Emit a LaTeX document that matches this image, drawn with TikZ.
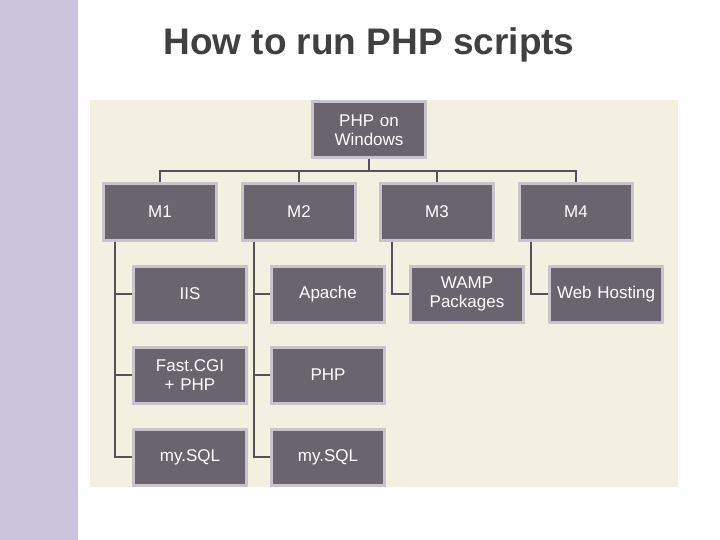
\documentclass[tikz,border=0pt]{standalone}
\usepackage{fontspec}
\setmainfont{Liberation Sans}
\usepackage{tikz}
\usetikzlibrary{positioning}
\definecolor{boxfill}{HTML}{69646E}
\definecolor{boxline}{HTML}{C9C3CC}
\definecolor{panel}{HTML}{F3EFE1}
\definecolor{strip}{HTML}{CBC3DA}
\definecolor{wire}{HTML}{555158}
\tikzset{box/.style={draw=boxline, line width=3pt, fill=boxfill, text=white, minimum width=113pt, minimum height=56pt, text width=105pt, align=center, font=\fontsize{17}{19}\selectfont}}

\begin{document}
\begin{tikzpicture}[x=1pt, y=-1pt]
    \useasboundingbox (0,0) rectangle (720,540);
    %Background
    \fill[strip] (0,0) rectangle (78,540);
    \fill[panel] (90,100) rectangle (678,487);
    \node[text=black!75, font=\bfseries\fontsize{37}{40}\selectfont](title) at (369,45){How to run PHP scripts};
    
    %Nodes
    \node[box](root) at (369,130){PHP on Windows};
    \node[box](m1) at (160,212){M1};
    \node[box](m2) at (299,212){M2};
    \node[box](m3) at (437,212){M3};
    \node[box](m4) at (576,212){M4};
    
    \node[box](iis) at (190,294){IIS};
    \node[box](fastcgi) at (190,375){Fast.CGI + PHP};
    \node[box](mysql_a) at (190,457){my.SQL};
    \node[box](apache) at (328,294){Apache};
    \node[box](php) at (328,375){PHP};
    \node[box](mysql_b) at (328,457){my.SQL};
    \node[box](wamp) at (467,294){WAMP Packages};
    \node[box](hosting) at (606,294){Web Hosting};
    
    %Lines
    \coordinate (bus) at (369,171);
    \draw[wire, line width=2.5pt] (root.south) -- (bus);
    \foreach \m in {m1,m2,m3,m4}
        \draw[wire, line width=2.5pt] (bus) -| (\m.north);
    \foreach \m/\c in {m1/iis, m1/fastcgi, m1/mysql_a, m2/apache, m2/php, m2/mysql_b, m3/wamp, m4/hosting}
        \draw[wire, line width=2.5pt] ([xshift=13pt]\m.south west) |- (\c.west);
\end{tikzpicture}
\end{document}
